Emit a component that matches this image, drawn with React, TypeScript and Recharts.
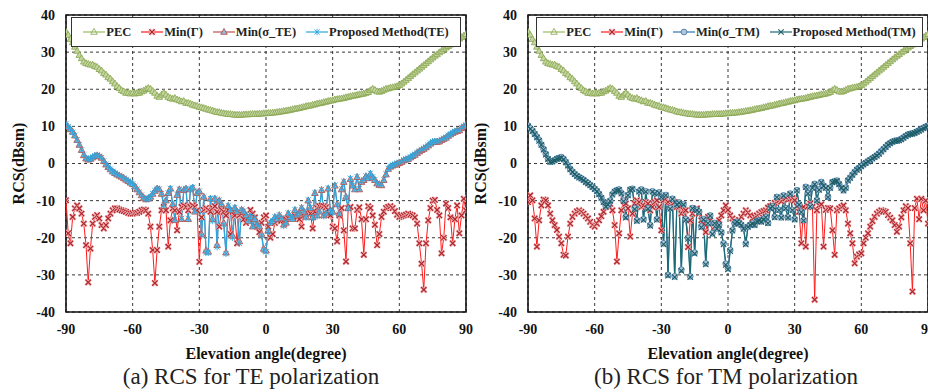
import React from 'react';
import { LineChart, Line, XAxis, YAxis, CartesianGrid, Legend, ReferenceArea } from 'recharts';

// ---------- data ----------
const ANGLES = [
  -90, -89, -88, -87, -86, -85, -84, -83, -82, -81,
  -80, -79, -78, -77, -76, -75, -74, -73, -72, -71,
  -70, -69, -68, -67, -66, -65, -64, -63, -62, -61,
  -60, -59, -58, -57, -56, -55, -54, -53, -52, -51,
  -50, -49, -48, -47, -46, -45, -44, -43, -42, -41,
  -40, -39, -38, -37, -36, -35, -34, -33, -32, -31,
  -30, -29, -28, -27, -26, -25, -24, -23, -22, -21,
  -20, -19, -18, -17, -16, -15, -14, -13, -12, -11,
  -10, -9, -8, -7, -6, -5, -4, -3, -2, -1,
  0, 1, 2, 3, 4, 5, 6, 7, 8, 9,
  10, 11, 12, 13, 14, 15, 16, 17, 18, 19,
  20, 21, 22, 23, 24, 25, 26, 27, 28, 29,
  30, 31, 32, 33, 34, 35, 36, 37, 38, 39,
  40, 41, 42, 43, 44, 45, 46, 47, 48, 49,
  50, 51, 52, 53, 54, 55, 56, 57, 58, 59,
  60, 61, 62, 63, 64, 65, 66, 67, 68, 69,
  70, 71, 72, 73, 74, 75, 76, 77, 78, 79,
  80, 81, 82, 83, 84, 85, 86, 87, 88, 89,
  90,
];

const X_TICKS = [-90, -60, -30, 0, 30, 60, 90];
const Y_TICKS = [-40, -30, -20, -10, 0, 10, 20, 30, 40];

const PEC = [
  35.5, 34.6, 33.5, 32.6, 31.4, 30.3, 29.2, 28.3, 27.4, 27.0,
  26.8, 26.6, 26.6, 26.2, 26.0, 25.4, 25.0, 24.3, 23.9, 23.2,
  22.8, 22.1, 21.5, 20.8, 20.3, 19.7, 19.4, 19.0, 19.0, 18.8,
  19.0, 18.8, 19.0, 19.0, 19.4, 19.6, 20.0, 20.3, 20.1, 19.5,
  19.0, 18.2, 17.9, 18.5, 19.0, 18.5, 17.9, 17.6, 17.4, 17.6,
  17.2, 17.0, 16.7, 16.8, 16.3, 16.3, 16.1, 15.8, 15.6, 15.5,
  15.2, 15.1, 14.9, 14.7, 14.5, 14.4, 14.2, 14.0, 13.8, 13.8,
  13.6, 13.5, 13.4, 13.3, 13.3, 13.2, 13.1, 13.1, 13.1, 13.1,
  13.2, 13.2, 13.2, 13.3, 13.3, 13.3, 13.3, 13.4, 13.4, 13.5,
  13.5, 13.6, 13.6, 13.7, 13.7, 13.8, 13.9, 14.0, 14.1, 14.2,
  14.3, 14.4, 14.6, 14.7, 14.8, 14.9, 15.1, 15.2, 15.4, 15.5,
  15.6, 15.8, 15.9, 16.1, 16.2, 16.3, 16.5, 16.6, 16.8, 16.9,
  17.0, 17.2, 17.3, 17.4, 17.5, 17.6, 17.8, 17.9, 18.1, 18.2,
  18.3, 18.4, 18.6, 18.7, 18.8, 19.0, 19.2, 19.7, 20.1, 19.8,
  19.4, 19.3, 19.5, 19.8, 20.1, 20.2, 20.4, 20.5, 20.6, 20.8,
  21.1, 21.5, 22.0, 22.5, 23.0, 23.5, 24.0, 24.5, 25.0, 25.5,
  26.0, 26.5, 27.0, 27.5, 28.0, 28.5, 29.0, 29.4, 29.9, 30.3,
  30.8, 31.2, 31.6, 32.0, 32.4, 32.8, 33.2, 33.6, 34.0, 34.4,
  34.8,
];

const MIN_GAMMA_TE = [
  -9.9, -18.8, -21.5, -14.4, -12.1, -11.3, -12.1, -13.5, -16.2, -22.0,
  -32.0, -22.9, -16.2, -14.4, -13.9, -14.8, -16.6, -17.5, -16.6, -14.8,
  -13.5, -12.6, -12.1, -12.1, -12.4, -12.6, -12.8, -13.0, -13.3, -13.5,
  -13.5, -13.3, -13.3, -13.0, -12.6, -12.4, -12.6, -13.5, -17.0, -23.3,
  -32.2, -23.3, -17.0, -12.6, -11.7, -12.6, -22.4, -15.3, -12.1, -12.6,
  -18.0, -13.0, -11.7, -11.3, -11.7, -12.6, -11.7, -11.3, -11.7, -12.6,
  -26.5, -14.5, -12.5, -12.0, -12.5, -13.0, -12.0, -11.5, -13.0, -17.0,
  -12.5, -13.0, -14.0, -12.5, -19.0, -13.0, -14.0, -21.5, -14.0, -13.5,
  -15.0, -16.0, -14.5, -12.5, -13.5, -14.5, -17.0, -18.5, -16.0, -14.5,
  -14.0, -17.0, -20.0, -19.0, -16.0, -15.5, -15.0, -15.3, -15.3, -15.0,
  -14.7, -14.5, -14.4, -14.2, -14.5, -15.0, -17.0, -14.0, -13.8, -13.5,
  -13.5, -17.5, -13.0, -12.0, -11.5, -11.3, -11.5, -11.8, -12.5, -14.0,
  -17.0, -17.5, -21.0, -14.0, -12.0, -18.0, -26.4, -12.0, -11.7, -17.5,
  -17.5, -12.5, -11.8, -15.0, -24.6, -15.0, -11.5, -12.0, -14.0, -16.5,
  -22.0, -19.0, -14.4, -13.0, -12.0, -11.7, -11.5, -12.0, -12.8, -13.8,
  -14.4, -14.2, -14.0, -13.8, -13.5, -13.8, -14.0, -14.5, -16.2, -21.5,
  -27.0, -34.0, -21.5, -15.3, -12.0, -10.0, -9.8, -12.5, -14.0, -24.2,
  -20.0, -10.8, -12.0, -14.5, -21.5, -15.0, -11.3, -18.8, -14.0, -9.5,
  -12.6,
];

const MIN_SIGMA_TE = [
  10.5, 9.8, 9.2, 8.5, 7.5, 6.3, 5.0, 3.6, 2.2, 1.3,
  1.0, 1.2, 1.6, 2.0, 2.1, 1.9, 1.5, 0.6, -0.3, -1.0,
  -1.6, -2.2, -2.6, -3.0, -3.3, -3.6, -4.0, -4.4, -4.8, -5.2,
  -5.6, -6.2, -7.0, -7.8, -8.6, -9.3, -9.7, -9.5, -9.0, -8.2,
  -7.4, -6.8, -7.0, -8.2, -11.5, -10.0, -8.0, -6.8, -11.0, -15.3,
  -8.5, -7.0, -15.0, -7.2, -6.8, -15.0, -7.0, -6.5, -13.0, -8.0,
  -7.5, -19.0, -9.0, -23.5, -23.8, -9.5, -15.0, -9.5, -22.0, -10.0,
  -11.0, -16.0, -24.0, -11.5, -12.5, -19.5, -12.0, -13.0, -21.0, -12.5,
  -13.0, -14.0, -15.5, -14.5, -17.0, -15.0, -16.5, -17.0, -19.0, -23.0,
  -23.5, -18.0, -16.0, -15.5, -14.5, -15.0, -14.0, -14.8, -16.5, -16.0,
  -13.5, -14.5, -15.0, -12.6, -14.0, -13.5, -12.0, -13.0, -14.4, -10.0,
  -12.0, -14.5, -8.0, -14.0, -13.0, -7.2, -14.0, -13.5, -6.8, -12.6,
  -13.0, -6.0, -11.0, -13.5, -7.0, -5.0, -9.0, -12.0, -4.2, -6.0,
  -7.0, -3.7, -7.0, -5.0, -4.5, -3.5, -4.0, -2.8, -3.8, -4.5,
  -5.4, -5.8, -5.9, -4.5, -3.0, -1.5, -0.9, -0.6, -0.4, -0.1,
  0.1, 0.4, 0.8, 1.0, 1.2, 1.6, 2.0, 2.3, 2.8, 3.2,
  3.6, 3.9, 4.3, 4.8, 5.3, 5.7, 5.8, 5.8, 5.9, 6.3,
  6.6, 6.9, 7.4, 7.8, 8.2, 8.5, 8.7, 8.9, 9.5, 9.9,
  10.2,
];

const PROPOSED_TE = [
  10.8, 9.9, 9.3, 8.4, 7.6, 6.4, 5.1, 3.7, 2.3, 1.5,
  1.2, 1.4, 1.8, 2.1, 2.3, 2.0, 1.6, 0.7, -0.2, -0.9,
  -1.5, -2.1, -2.5, -2.9, -3.2, -3.5, -3.9, -4.3, -4.7, -5.1,
  -5.5, -6.1, -6.9, -7.7, -8.5, -9.2, -9.6, -9.4, -8.9, -8.1,
  -7.3, -6.7, -6.9, -8.1, -11.2, -9.8, -7.9, -6.7, -10.8, -15.0,
  -8.3, -6.9, -14.8, -7.1, -6.7, -14.8, -6.9, -6.4, -12.8, -7.9,
  -7.4, -19.5, -9.0, -24.0, -24.0, -9.4, -15.5, -9.4, -22.5, -9.8,
  -10.8, -16.5, -24.3, -11.3, -12.3, -20.0, -11.8, -12.8, -21.5, -12.3,
  -12.8, -13.8, -15.3, -14.3, -16.8, -14.8, -16.3, -16.8, -19.5, -23.3,
  -23.8, -18.3, -15.8, -15.3, -14.3, -14.8, -13.8, -14.6, -16.8, -15.8,
  -13.3, -14.3, -14.8, -12.4, -13.8, -13.3, -11.8, -12.8, -14.6, -9.8,
  -11.8, -14.6, -7.8, -14.2, -12.8, -7.0, -14.2, -13.3, -6.6, -12.8,
  -13.2, -5.8, -11.2, -13.6, -6.8, -4.8, -9.2, -12.2, -4.0, -5.8,
  -6.8, -3.5, -6.8, -4.8, -4.3, -3.3, -3.8, -2.6, -3.6, -4.3,
  -5.2, -5.6, -5.7, -4.3, -2.8, -1.3, -0.7, -0.4, -0.2, 0.1,
  0.3, 0.6, 1.0, 1.2, 1.4, 1.8, 2.2, 2.5, 3.0, 3.4,
  3.8, 4.1, 4.5, 5.0, 5.5, 5.9, 6.0, 6.0, 6.1, 6.5,
  6.8, 7.1, 7.6, 8.0, 8.4, 8.7, 8.9, 9.1, 9.7, 10.1,
  10.4,
];

const MIN_GAMMA_TM = [
  -10.4, -8.6, -9.9, -14.8, -22.4, -15.3, -11.3, -9.7, -9.9, -11.3,
  -13.5, -15.3, -16.6, -17.9, -19.7, -21.5, -24.6, -24.8, -19.7, -16.2,
  -14.4, -13.5, -12.9, -12.6, -13.0, -13.5, -14.2, -14.8, -15.7, -16.6,
  -17.0, -16.2, -15.3, -14.2, -13.0, -11.7, -11.0, -10.9, -12.6, -16.6,
  -26.4, -18.8, -12.6, -9.9, -10.8, -12.1, -19.7, -13.5, -10.8, -9.9,
  -10.4, -11.7, -11.3, -10.4, -10.8, -12.6, -11.7, -10.4, -9.9, -11.7,
  -18.0, -9.9, -9.5, -10.4, -11.7, -10.8, -10.4, -11.7, -11.7, -13.5,
  -12.6, -12.6, -22.5, -15.3, -13.5, -12.6, -12.1, -13.5, -15.3, -16.2,
  -18.5, -14.4, -15.3, -16.2, -17.0, -16.6, -15.3, -14.0, -12.6, -11.3,
  -12.5, -14.0, -14.8, -15.5, -16.2, -15.2, -14.4, -13.5, -12.6, -13.2,
  -14.0, -14.8, -14.4, -14.0, -13.5, -13.1, -12.8, -12.6, -11.9, -11.5,
  -11.3, -10.6, -10.2, -9.9, -10.2, -9.5, -9.3, -9.7, -9.5, -9.3,
  -9.9, -11.5, -13.0, -21.5, -11.7, -22.4, -11.5, -10.8, -11.7, -36.7,
  -12.6, -11.3, -11.0, -22.4, -12.5, -12.0, -12.1, -18.0, -24.6, -12.6,
  -12.1, -11.7, -11.3, -12.6, -16.2, -18.8, -21.5, -26.9, -25.1, -24.5,
  -24.2, -21.5, -20.0, -18.8, -17.0, -15.5, -14.4, -13.5, -13.0, -12.6,
  -12.8, -13.0, -13.9, -14.6, -15.3, -16.6, -18.4, -17.0, -14.5, -12.6,
  -11.5, -12.0, -21.5, -34.5, -12.0, -9.5, -15.0, -9.5, -12.6, -10.0,
  -16.2,
];

const MIN_SIGMA_TM = [
  10.2, 9.5, 8.9, 8.0, 7.2, 6.3, 5.1, 3.9, 2.6, 1.3,
  0.5, 0.6, 0.9, 1.3, 1.5, 1.7, 1.2, 0.4, -0.5, -1.5,
  -2.2, -2.8, -3.3, -3.7, -4.0, -4.4, -4.9, -5.3, -5.8, -6.3,
  -6.8, -7.4, -8.2, -9.2, -10.3, -11.5, -11.0, -10.0, -8.3, -7.5,
  -7.2, -7.0, -8.0, -10.0, -14.4, -8.5, -7.0, -6.8, -12.0, -15.3,
  -7.5, -7.0, -15.0, -7.5, -12.0, -16.6, -7.5, -8.0, -15.0, -7.8,
  -9.0, -21.5, -8.5, -30.0, -12.0, -9.5, -30.4, -11.0, -10.5, -28.6,
  -11.0, -15.0, -20.0, -30.4, -12.0, -24.0, -12.5, -13.0, -17.0, -15.0,
  -26.9, -16.0, -14.0, -18.8, -16.0, -17.5, -16.5, -18.5, -21.5, -27.0,
  -28.2, -23.3, -18.0, -16.2, -15.7, -16.0, -16.5, -17.5, -21.5, -17.0,
  -16.5, -16.2, -16.5, -15.5, -15.3, -15.6, -15.0, -14.4, -16.0, -12.0,
  -11.5, -14.4, -9.0, -12.5, -14.5, -8.6, -12.0, -14.5, -8.1, -12.5,
  -15.0, -7.2, -11.0, -13.0, -15.3, -6.3, -8.0, -11.5, -6.5, -5.5,
  -9.9, -7.0, -5.0, -6.0, -6.5, -9.0, -6.5, -5.0, -4.8, -4.6,
  -5.5, -6.5, -7.2, -6.5, -4.5, -3.8, -3.0, -2.3, -1.6, -1.2,
  -0.7, -0.2, 0.2, 0.6, 1.0, 1.4, 1.8, 2.2, 2.7, 3.3,
  3.9, 4.5, 5.1, 5.5, 5.9, 6.1, 6.2, 6.3, 6.6, 7.0,
  7.4, 7.8, 8.0, 8.1, 8.3, 8.6, 8.9, 9.2, 9.6, 9.9,
  10.2,
];

const PROPOSED_TM = [
  10.0, 9.3, 8.7, 7.9, 7.0, 6.1, 5.0, 3.7, 2.4, 1.2,
  0.4, 0.5, 0.8, 1.2, 1.4, 1.6, 1.1, 0.3, -0.6, -1.6,
  -2.3, -2.9, -3.4, -3.8, -4.1, -4.5, -5.0, -5.4, -5.9, -6.4,
  -6.9, -7.5, -8.3, -9.3, -10.4, -11.6, -11.1, -10.1, -8.4, -7.6,
  -7.3, -7.1, -8.1, -10.2, -14.6, -8.6, -7.1, -6.9, -12.3, -15.5,
  -7.6, -7.1, -15.2, -7.6, -12.2, -16.8, -7.6, -8.1, -15.2, -7.9,
  -9.1, -21.8, -8.6, -30.2, -12.2, -9.6, -30.6, -11.1, -10.6, -28.9,
  -11.1, -15.2, -20.3, -30.6, -12.1, -24.3, -12.6, -13.1, -17.2, -15.1,
  -27.2, -16.1, -14.1, -19.0, -16.1, -17.6, -16.6, -18.6, -21.8, -27.3,
  -28.5, -23.6, -18.1, -16.3, -15.8, -16.1, -16.6, -17.6, -21.8, -17.1,
  -16.6, -16.3, -16.6, -15.6, -15.4, -15.7, -15.1, -14.5, -16.1, -12.1,
  -11.6, -14.5, -9.1, -12.6, -14.6, -8.7, -12.1, -14.6, -8.2, -12.6,
  -15.1, -7.3, -11.1, -13.1, -15.4, -6.4, -8.1, -11.6, -6.6, -5.6,
  -10.0, -7.1, -5.1, -6.1, -6.6, -9.1, -6.6, -5.1, -4.9, -4.7,
  -5.6, -6.6, -7.3, -6.6, -4.6, -3.9, -3.1, -2.4, -1.7, -1.3,
  -0.8, -0.3, 0.1, 0.5, 0.9, 1.3, 1.7, 2.1, 2.6, 3.2,
  3.8, 4.4, 5.0, 5.4, 5.8, 6.0, 6.1, 6.2, 6.5, 6.9,
  7.3, 7.7, 7.9, 8.0, 8.2, 8.5, 8.8, 9.1, 9.5, 9.8,
  10.1,
];

const TE_NAMES = ['PEC', 'Min(Γ)', 'Min(σ_TE)', 'Proposed Method(TE)'];
const TM_NAMES = ['PEC', 'Min(Γ)', 'Min(σ_TM)', 'Proposed Method(TM)'];

const TE_DATA = ANGLES.map((a, i) => ({ a, pec: PEC[i], g: MIN_GAMMA_TE[i], s: MIN_SIGMA_TE[i], p: PROPOSED_TE[i] }));
const TM_DATA = ANGLES.map((a, i) => ({ a, pec: PEC[i], g: MIN_GAMMA_TM[i], s: MIN_SIGMA_TM[i], p: PROPOSED_TM[i] }));

// ---------- styling ----------
const FONT = '"Liberation Serif", "Times New Roman", Times, serif';

type MarkerStyle = { kind: 'tri' | 'x' | 'xx' | 'star' | 'circle'; stroke: string; fill?: string; sw: number; halo?: string };
type SeriesStyle = { key: string; line: string; width: number; marker: MarkerStyle };

function Marker({ cx, cy, m }: { cx: number; cy: number; m: MarkerStyle }) {
  if (m.kind === 'tri') {
    return <path d={`M${cx},${cy - 3.6}L${cx + 3.3},${cy + 2.3}L${cx - 3.3},${cy + 2.3}Z`} stroke={m.stroke} fill={m.fill || 'none'} strokeWidth={m.sw} />;
  }
  if (m.kind === 'x' || m.kind === 'xx') {
    const s = 2.7;
    const d = `M${cx - s},${cy - s}L${cx + s},${cy + s}M${cx - s},${cy + s}L${cx + s},${cy - s}`;
    return (
      <g>
        {m.halo ? <path d={d} stroke={m.halo} strokeWidth={m.sw + 1.6} fill="none" /> : null}
        <path d={d} stroke={m.stroke} strokeWidth={m.sw} fill="none" />
      </g>
    );
  }
  if (m.kind === 'star') {
    const s = 2.6;
    return (
      <path
        d={`M${cx - s},${cy - s}L${cx + s},${cy + s}M${cx - s},${cy + s}L${cx + s},${cy - s}M${cx},${cy - 3.3}L${cx},${cy + 3.3}`}
        stroke={m.stroke}
        strokeWidth={m.sw}
        fill="none"
      />
    );
  }
  return <circle cx={cx} cy={cy} r={2.9} stroke={m.stroke} fill={m.fill || 'none'} strokeWidth={m.sw} />;
}

function makeDot(m: MarkerStyle) {
  return (props: any) => {
    const { cx, cy, index } = props;
    if (cx == null || cy == null || Number.isNaN(cx) || Number.isNaN(cy)) return <g key={`e${index}`} />;
    return (
      <g key={`d${index}`}>
        <Marker cx={cx} cy={cy} m={m} />
      </g>
    );
  };
}

const PEC_STYLE: SeriesStyle = { key: 'pec', line: '#9bbb59', width: 1, marker: { kind: 'tri', stroke: '#86a34c', fill: '#c4d7a0', sw: 0.8 } };
const GAMMA_STYLE: SeriesStyle = { key: 'g', line: '#ff1a1a', width: 1, marker: { kind: 'xx', stroke: '#b0232b', sw: 1.2, halo: '#f0b4b4' } };

const TE_SERIES: SeriesStyle[] = [
  PEC_STYLE,
  GAMMA_STYLE,
  { key: 's', line: '#c0504d', width: 1, marker: { kind: 'tri', stroke: '#b9544f', fill: '#8fbcd8', sw: 0.9 } },
  { key: 'p', line: '#2da7df', width: 1.3, marker: { kind: 'star', stroke: '#2da7df', sw: 0.9 } },
];

const TM_SERIES: SeriesStyle[] = [
  PEC_STYLE,
  GAMMA_STYLE,
  { key: 's', line: '#2e75b6', width: 1, marker: { kind: 'circle', stroke: '#4b7fae', fill: '#b4c6d4', sw: 0.9 } },
  { key: 'p', line: '#1d6a73', width: 1.3, marker: { kind: 'x', stroke: '#1b5d66', sw: 1.1 } },
];

const tickStyle = { fill: '#111', fontSize: 14, fontWeight: 'bold' as const, fontFamily: FONT };

function LegendBox({ names, series }: { names: string[]; series: SeriesStyle[] }) {
  return (
    <div
      style={{
        width: '100%',
        height: '100%',
        boxSizing: 'border-box',
        border: '1.2px solid #333',
        background: '#fff',
        display: 'flex',
        alignItems: 'center',
        justifyContent: 'center',
        gap: 10,
        fontFamily: FONT,
        fontWeight: 'bold',
        fontSize: 12.5,
        color: '#222',
        whiteSpace: 'nowrap',
      }}
    >
      {series.map((s, i) => (
        <span key={s.key} style={{ display: 'flex', alignItems: 'center' }}>
          <svg width={22} height={10} style={{ display: 'block' }}>
            <line x1={0} y1={5} x2={22} y2={5} stroke={s.line} strokeWidth={1.2} />
            <Marker cx={11} cy={5} m={s.marker.kind === 'tri' && s.key === 'pec' ? { ...s.marker, fill: 'none' } : s.marker} />
          </svg>
          <span style={{ marginLeft: 1 }}>{names[i]}</span>
        </span>
      ))}
    </div>
  );
}

function Panel({ data, series, names, left, legendLeft, legendWidth }: any) {
  return (
    <div style={{ position: 'absolute', left, top: 0, width: 484, height: 365 }}>
      <LineChart width={484} height={365} data={data} margin={{ top: 15, right: 18, bottom: 0, left: 0 }}>
        <CartesianGrid stroke="#222" strokeDasharray="3 3" strokeWidth={0.9} />
        <XAxis
          dataKey="a"
          type="number"
          domain={[-90, 90]}
          ticks={X_TICKS}
          interval={0}
          allowDataOverflow
          tickLine={false}
          axisLine={false}
          tickMargin={6}
          height={53}
          tick={tickStyle}
          label={{ value: 'Elevation angle(degree)', position: 'insideBottom', offset: 6, style: { fill: '#111', fontSize: 16, fontWeight: 'bold', fontFamily: FONT } }}
        />
        <YAxis
          type="number"
          domain={[-40, 40]}
          ticks={Y_TICKS}
          interval={0}
          allowDataOverflow
          tickLine={false}
          axisLine={false}
          tickMargin={5}
          width={66}
          tick={tickStyle}
          label={{ value: 'RCS(dBsm)', angle: -90, position: 'insideLeft', offset: 18, style: { textAnchor: 'middle', fill: '#111', fontSize: 16, fontWeight: 'bold', fontFamily: FONT } }}
        />
        <ReferenceArea x1={-90} x2={90} y1={-40} y2={40} fill="none" fillOpacity={0} stroke="#111" strokeWidth={1.6} />
        {series.map((s: SeriesStyle, i: number) => (
          <Line
            key={s.key}
            type="linear"
            dataKey={s.key}
            name={names[i]}
            stroke={s.line}
            strokeWidth={s.width}
            dot={makeDot(s.marker)}
            activeDot={false}
            isAnimationActive={false}
          />
        ))}
        <Legend
          layout="horizontal"
          verticalAlign="middle"
          align="center"
          wrapperStyle={{ top: 17, left: legendLeft, width: legendWidth, height: 30 }}
          content={() => <LegendBox names={names} series={series} />}
        />
      </LineChart>
    </div>
  );
}

const captionStyle: React.CSSProperties = {
  position: 'absolute',
  top: 364,
  transform: 'translateX(-50%)',
  fontFamily: FONT,
  fontSize: 23,
  lineHeight: '26px',
  color: '#222',
  whiteSpace: 'nowrap',
};

export default function App() {
  return (
    <div style={{ position: 'absolute', left: 0, top: 0, width: 928, height: 390, overflow: 'hidden', background: '#fff' }}>
      <Panel data={TE_DATA} series={TE_SERIES} names={TE_NAMES} left={0} legendLeft={71} legendWidth={390} />
      <Panel data={TM_DATA} series={TM_SERIES} names={TM_NAMES} left={462} legendLeft={74} legendWidth={387} />
      <div style={{ ...captionStyle, left: 251 }}>(a) RCS for TE polarization</div>
      <div style={{ ...captionStyle, left: 726 }}>(b) RCS for TM polarization</div>
    </div>
  );
}
